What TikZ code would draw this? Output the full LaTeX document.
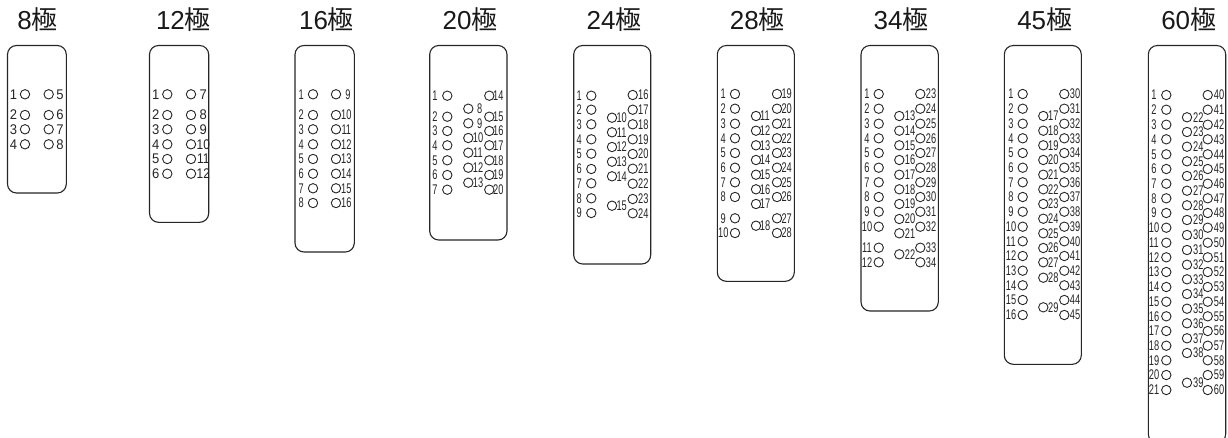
\documentclass[tikz,border=0pt]{standalone}
\usepackage{fontspec}
\setmainfont{Liberation Sans}
\newfontfamily\cjk{Noto Sans CJK JP}
\tikzset{
  x=1pt,y=-1pt,
  housing/.style={draw=black!85,line width=1.1pt,rounded corners=9pt,fill=white},
  pinring/.style={circle,draw=black!85,line width=0.9pt,minimum size=9.4pt,inner sep=0pt},
  pinlab/.style={inner sep=0pt,font=\fontsize{14}{14}\selectfont,text=black!85},
  heading/.style={inner sep=0pt,font=\fontsize{26}{26}\selectfont,text=black!90}
}
% #1 group, #2 circle x, #3 first number, #4 label x, #5 width factor, #6 y list
\newcommand{\pinrun}[6]{%
  \foreach \yy [count=\nn from #3] in {#6}{%
    \node[pinring] (#1-\nn) at (#2,\yy) {};
    \node[pinlab] (#1-\nn-t) at (#4,\yy) {\scalebox{#5}[1]{\nn}};
  }%
}
\begin{document}
\begin{tikzpicture}
\useasboundingbox (0,0) rectangle (1228,437);
% titles
\node[heading] (t8) at (37.5,19.7) {8{\cjk 極}};
\node[heading] (t12) at (183.5,19.7) {12{\cjk 極}};
\node[heading] (t16) at (326.5,19.7) {16{\cjk 極}};
\node[heading] (t20) at (470,19.7) {20{\cjk 極}};
\node[heading] (t24) at (614,19.7) {24{\cjk 極}};
\node[heading] (t28) at (757.3,19.7) {28{\cjk 極}};
\node[heading] (t34) at (901,19.7) {34{\cjk 極}};
\node[heading] (t45) at (1044.7,19.7) {45{\cjk 極}};
\node[heading] (t60) at (1188.7,19.7) {60{\cjk 極}};
% housings
\draw[housing] (7.5,45.5) rectangle (66.3,193);
\draw[housing] (149.5,45.5) rectangle (208.7,222.3);
\draw[housing] (295,45.5) rectangle (354.3,252);
\draw[housing] (429.7,45.5) rectangle (507,240);
\draw[housing] (573.7,45.5) rectangle (650.7,264);
\draw[housing] (717.3,45.5) rectangle (794.3,281.3);
\draw[housing] (861,45.5) rectangle (938.3,311);
\draw[housing] (1004.3,45.5) rectangle (1081.3,364.3);
\draw[housing] (1148.3,45.5) rectangle (1225.7,443);
% 8
\pinrun{a}{25}{1}{13.5}{.93}{94.3,115,129.3,144.3}
\pinrun{a}{48.7}{5}{60}{.93}{94.3,115,129.3,144.3}
% 12
\pinrun{b}{167.3}{1}{155.7}{.93}{94.3,115,129.3,144.3,159,173.7}
\pinrun{b}{191}{7}{203.3}{.93}{94.3,115,129.3}
\pinrun{b}{191}{10}{203.3}{.85}{144.3,159,173.7}
% 16
\pinrun{c}{313}{1}{301.3}{.66}{94.3,115,129.3,144.3,159,173.7,188.3,203}
\pinrun{c}{336}{9}{348}{.66}{94.3}
\pinrun{c}{336}{10}{346.3}{.66}{115,129.3,144.3,159,173.7,188.3,203}
% 20
\pinrun{d}{447.3}{1}{435}{.66}{95.7,116.7,131,145.3,160.3,175,189.7}
\pinrun{d}{468.3}{8}{479.7}{.66}{108.7,123.3}
\pinrun{d}{468.3}{10}{478}{.66}{138,152.7,167.7,182.7}
\pinrun{d}{489.3}{14}{498.3}{.66}{95.7,116.7,131,145.3,160.3,175,189.7}
% 24
\pinrun{e}{591.3}{1}{579.3}{.66}{95.7,109.7,124.3,139.3,153.7,169,183.3,198.3,213}
\pinrun{e}{612}{10}{621.7}{.66}{117.7,132.3,147,161.7,176.3,205.7}
\pinrun{e}{632.7}{16}{643.3}{.66}{95,109.7,124.3,139.3,154,168.7,183.7,199,213.3}
% 28
\pinrun{f}{735}{1}{723.3}{.66}{94,108.7,123.7,138.3,153,167.7,182.3,197,218.3,233}
\pinrun{f}{756}{11}{765}{.66}{116,130.7,145.3,160,174.7,189.3,204,225.7}
\pinrun{f}{777}{19}{786.7}{.66}{94,108.7,123.7,138.3,153,167.7,182.3,197,218.3,233}
% 34
\pinrun{g}{878.7}{1}{867}{.66}{94,108.7,123.7,138.3,153,167.7,182.3,197,211.7,226.7,247.7,262.3}
\pinrun{g}{899.3}{13}{910}{.66}{116,130.7,145.3,160,174.7,189.3,204,219,233.3,254.3}
\pinrun{g}{920.3}{23}{931}{.66}{94,108.7,123.7,138.3,153,167.7,182.3,197,211.7,226.7,247.7,262.3}
% 45
\pinrun{h}{1022.7}{1}{1011}{.66}{94,108.7,123.7,138.3,153,167.7,182.3,197,211.7,226.7,241.3,256,270.7,285.3,300,315}
\pinrun{h}{1043.3}{17}{1053.3}{.66}{116,130.7,145.3,160,174.7,189.3,204,218.7,233.3,248,262.3,277.7,307.3}
\pinrun{h}{1064.3}{30}{1075}{.66}{94,108.7,123.7,138.3,153,167.7,182.3,197,211.7,226.7,241.3,256,270.7,285.3,300,315}
% 60
\pinrun{k}{1166.3}{1}{1154}{.66}{95,109.7,124.7,139.3,154.3,169,183.7,198.3,213,227.7,242.7,257.3,272,287,301.7,316.3,331,345.7,360.3,375,390}
\pinrun{k}{1187}{22}{1198.3}{.66}{117.3,132,146.7,161.3,176,190.7,205.3,220,235,250,264.7,279.3,294,308.7,323.3,338.3,353,382.7}
\pinrun{k}{1207.7}{40}{1219}{.66}{95,109.7,124.7,139.3,154.3,169,183.7,198.3,213,227.7,242.7,257.3,272,287,301.7,316.3,331,345.7,360.3,375,390}
\end{tikzpicture}
\end{document}
